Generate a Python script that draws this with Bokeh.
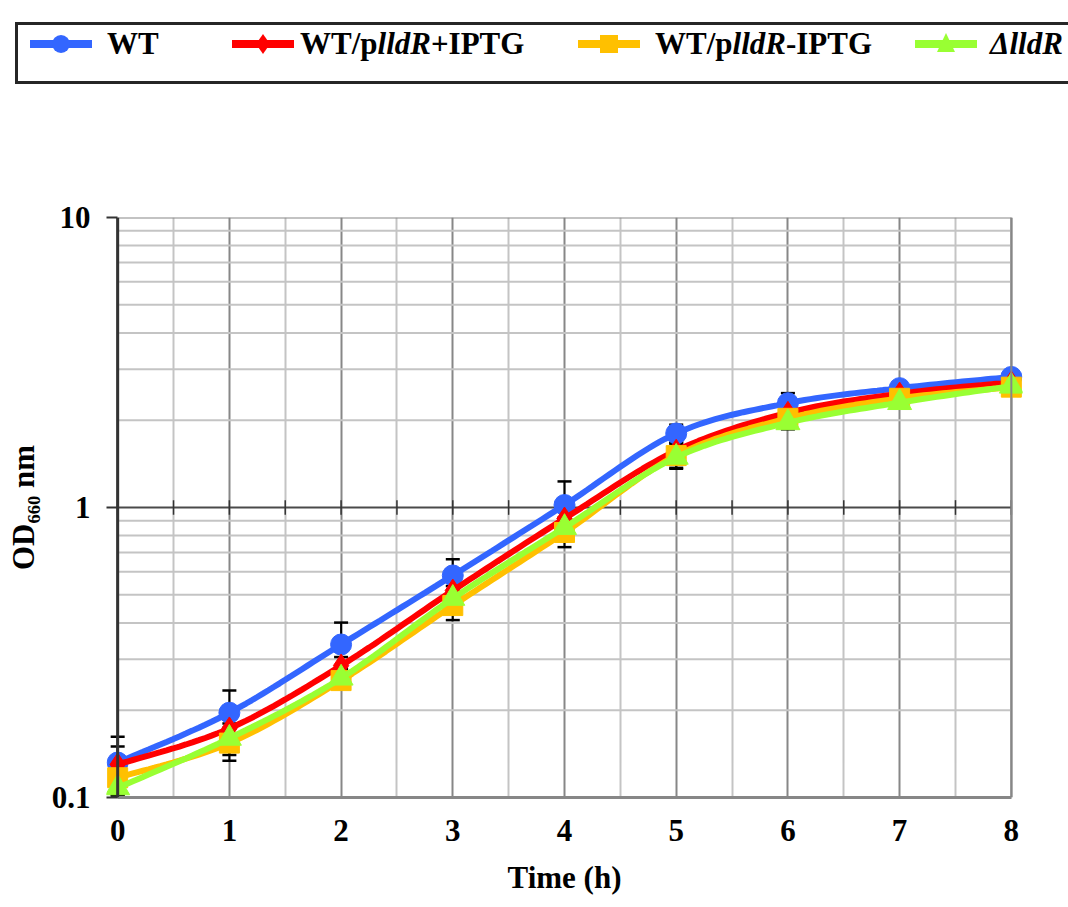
import numpy as np
from bokeh.plotting import figure
from bokeh.models import FixedTicker, Range1d, Span, NumeralTickFormatter, Div
from bokeh.layouts import column
from bokeh.embed import file_html
from bokeh.resources import INLINE

# ---------------- data ----------------
time_h = [0, 1, 2, 3, 4, 5, 6, 7, 8]

wt = [0.132, 0.196, 0.337, 0.583, 1.02, 1.80, 2.29, 2.58, 2.82]
wt_sd = [0.030, 0.038, 0.064, 0.080, 0.21, 0.13, 0.19, 0.05, 0.05]

wt_plus = [0.130, 0.173, 0.285, 0.517, 0.916, 1.57, 2.12, 2.47, 2.70]
wt_plus_sd = [0.020, 0.018, 0.020, 0.050, 0.08, 0.12, 0.12, 0.08, 0.06]

wt_minus = [0.117, 0.154, 0.253, 0.459, 0.820, 1.51, 2.03, 2.38, 2.60]
wt_minus_sd = [0.015, 0.020, 0.015, 0.050, 0.09, 0.15, 0.10, 0.08, 0.06]

dlldr = [0.108, 0.160, 0.258, 0.486, 0.853, 1.49, 1.96, 2.30, 2.62]
dlldr_sd = [0.008, 0.020, 0.020, 0.050, 0.07, 0.12, 0.10, 0.08, 0.06]

labels_html = ["WT", "WT/p<i>lldR</i>+IPTG", "WT/p<i>lldR</i>-IPTG", "<i>\u0394lldR</i>"]
colors = ["#3366FF", "#FF0000", "#FFC000", "#99FF33"]
markers = ["circle", "diamond", "square", "triangle"]
msizes = [21, 23, 20, 24]

x_ticks = [0, 1, 2, 3, 4, 5, 6, 7, 8]
x_minor = [0.5, 1.5, 2.5, 3.5, 4.5, 5.5, 6.5, 7.5]
y_ticks = [0.1, 1, 10]
y_minor = [0.2, 0.3, 0.4, 0.5, 0.6, 0.7, 0.8, 0.9, 2, 3, 4, 5, 6, 7, 8, 9]

FONT = "Liberation Serif"

series = [wt, wt_plus, wt_minus, dlldr]
sds = [wt_sd, wt_plus_sd, wt_minus_sd, dlldr_sd]


def smooth(xs, ys, n=20):
    """Catmull-Rom curve through the points, in (x, log10 y) space."""
    px = np.asarray(xs, float)
    py = np.log10(np.asarray(ys, float))
    P = np.column_stack([px, py])
    P = np.vstack([P[0], P, P[-1]])
    out = []
    t = np.linspace(0, 1, n, endpoint=False)[:, None]
    for i in range(1, len(P) - 2):
        p0, p1, p2, p3 = P[i - 1], P[i], P[i + 1], P[i + 2]
        c = 0.5 * (2 * p1 + (-p0 + p2) * t + (2 * p0 - 5 * p1 + 4 * p2 - p3) * t ** 2
                   + (-p0 + 3 * p1 - 3 * p2 + p3) * t ** 3)
        out.append(c)
    out.append(P[-2][None, :])
    c = np.vstack(out)
    return c[:, 0], 10 ** c[:, 1]


# ---------------- legend (HTML, above the chart) ----------------
def legend_icon(color, marker):
    if marker == "circle":
        m = f'<circle cx="31" cy="15" r="9" fill="{color}"/>'
    elif marker == "diamond":
        m = f'<polygon points="31,5 38,15 31,25 24,15" fill="{color}"/>'
    elif marker == "square":
        m = f'<rect x="22" y="6" width="18" height="18" fill="{color}"/>'
    else:
        m = f'<polygon points="31,4 40,23 22,23" fill="{color}"/>'
    return (f'<svg width="62" height="30" style="position:absolute;left:0;top:0">'
            f'<line x1="0" y1="15" x2="62" y2="15" stroke="{color}" stroke-width="8"/>'
            f'{m}</svg>')


glyph_left = [30, 232, 578, 915]
text_left = [107, 300, 655, 990]
parts = []
for gl, tl, col, mk, lab in zip(glyph_left, text_left, colors, markers, labels_html):
    parts.append(f'<div style="position:absolute;left:{gl}px;top:29px;width:62px;'
                 f'height:30px">{legend_icon(col, mk)}</div>')
    parts.append(f'<div style="position:absolute;left:{tl}px;top:26px;'
                 f'white-space:nowrap;line-height:36px">{lab}</div>')
legend_html = (
    f'<div style="position:relative;width:1068px;height:100px;overflow:hidden;'
    f'font-family:\'{FONT}\';font-weight:bold;font-size:31px;color:black">'
    f'<div style="position:absolute;left:15px;top:22px;width:1100px;height:62px;'
    f'box-sizing:border-box;border:3px solid #262626"></div>'
    + "".join(parts) + '</div>')
legend_div = Div(text=legend_html, width=1068, height=100, margin=0)

# ---------------- main figure ----------------
p = figure(x_range=Range1d(-0.1, 8.1), y_range=Range1d(0.1, 10), y_axis_type="log",
           frame_width=916, frame_height=580, min_border_left=106,
           min_border_right=46, min_border_top=117, min_border_bottom=110,
           output_backend="svg", toolbar_location=None, outline_line_color=None,
           margin=0)

p.xaxis.ticker = FixedTicker(ticks=x_ticks, minor_ticks=x_minor)
p.yaxis.ticker = FixedTicker(ticks=y_ticks, minor_ticks=y_minor)
p.yaxis.formatter = NumeralTickFormatter(format="0.[0]")

p.xgrid.ticker = FixedTicker(ticks=x_ticks, minor_ticks=x_minor)
p.xgrid.grid_line_color = "#878787"
p.xgrid.grid_line_width = 2
p.xgrid.minor_grid_line_color = "#c4c4c4"
p.xgrid.minor_grid_line_width = 2
p.ygrid.visible = False

# horizontal grid lines, limited to the plotted time span
x0, x1 = x_ticks[0], x_ticks[-1]
p.segment(x0=[x0] * len(y_minor), x1=[x1] * len(y_minor), y0=y_minor, y1=y_minor,
          line_color="#c4c4c4", line_width=2)
p.segment(x0=[x0], x1=[x1], y0=[y_ticks[2]], y1=[y_ticks[2]],
          line_color="#878787", line_width=2)
p.segment(x0=[x0], x1=[x1], y0=[y_ticks[1]], y1=[y_ticks[1]],
          line_color="#4a4a4a", line_width=2)
# small cross ticks along the y = 1 line
xt_all = sorted(x_ticks + x_minor)
p.segment(x0=xt_all, x1=xt_all, y0=[y_ticks[1] / 1.06] * len(xt_all),
          y1=[y_ticks[1] * 1.06] * len(xt_all), line_color="#333333", line_width=1.5)

p.add_layout(Span(location=x_ticks[-1], dimension="height", line_color="#878787",
                  line_width=2))
p.add_layout(Span(location=x_ticks[0], dimension="height", line_color="#333333",
                  line_width=3))

# axes
p.xaxis.bounds = (x0, x1)
p.xaxis.axis_line_color = "#878787"
p.xaxis.axis_line_width = 3
p.xaxis.major_tick_out = 0
p.xaxis.major_tick_in = 0
p.xaxis.minor_tick_out = 0
p.xaxis.minor_tick_in = 0
p.xaxis.major_label_standoff = 22
p.xaxis.axis_label = "Time (h)"
p.xaxis.axis_label_standoff = 16

p.yaxis.axis_line_color = None
p.yaxis.major_tick_in = 11
p.yaxis.major_tick_out = 0
p.yaxis.major_tick_line_color = "#333333"
p.yaxis.major_tick_line_width = 2
p.yaxis.minor_tick_out = 0
p.yaxis.minor_tick_in = 0
p.yaxis.major_label_standoff = 16
p.yaxis.axis_label = "OD\u2086\u2086\u2080 nm"
p.yaxis.axis_label_standoff = 8

for ax in (p.xaxis, p.yaxis):
    ax.major_label_text_font = FONT
    ax.major_label_text_font_style = "bold"
    ax.major_label_text_font_size = "31px"
    ax.major_label_text_color = "black"
    ax.axis_label_text_font = FONT
    ax.axis_label_text_font_style = "bold"
    ax.axis_label_text_font_size = "31px"
    ax.axis_label_text_color = "black"

# error bars (behind the curves)
for vals, sd in zip(series, sds):
    lo = [v - s for v, s in zip(vals, sd)]
    hi = [v + s for v, s in zip(vals, sd)]
    p.segment(x0=time_h, x1=time_h, y0=lo, y1=hi, line_color="black", line_width=2)
    p.scatter(time_h, hi, marker="dash", size=14, line_color="black", line_width=2.5)
    p.scatter(time_h, lo, marker="dash", size=14, line_color="black", line_width=2.5)

# curves + markers
for vals, col, mk, ms in zip(series, colors, markers, msizes):
    sx, sy = smooth(time_h, vals)
    p.line(sx, sy, line_color=col, line_width=6)
    p.scatter(time_h, vals, marker=mk, size=ms, fill_color=col, line_color=col)

layout = column(legend_div, p, spacing=0, margin=0)
open("out.html", "w").write(file_html(layout, INLINE))
